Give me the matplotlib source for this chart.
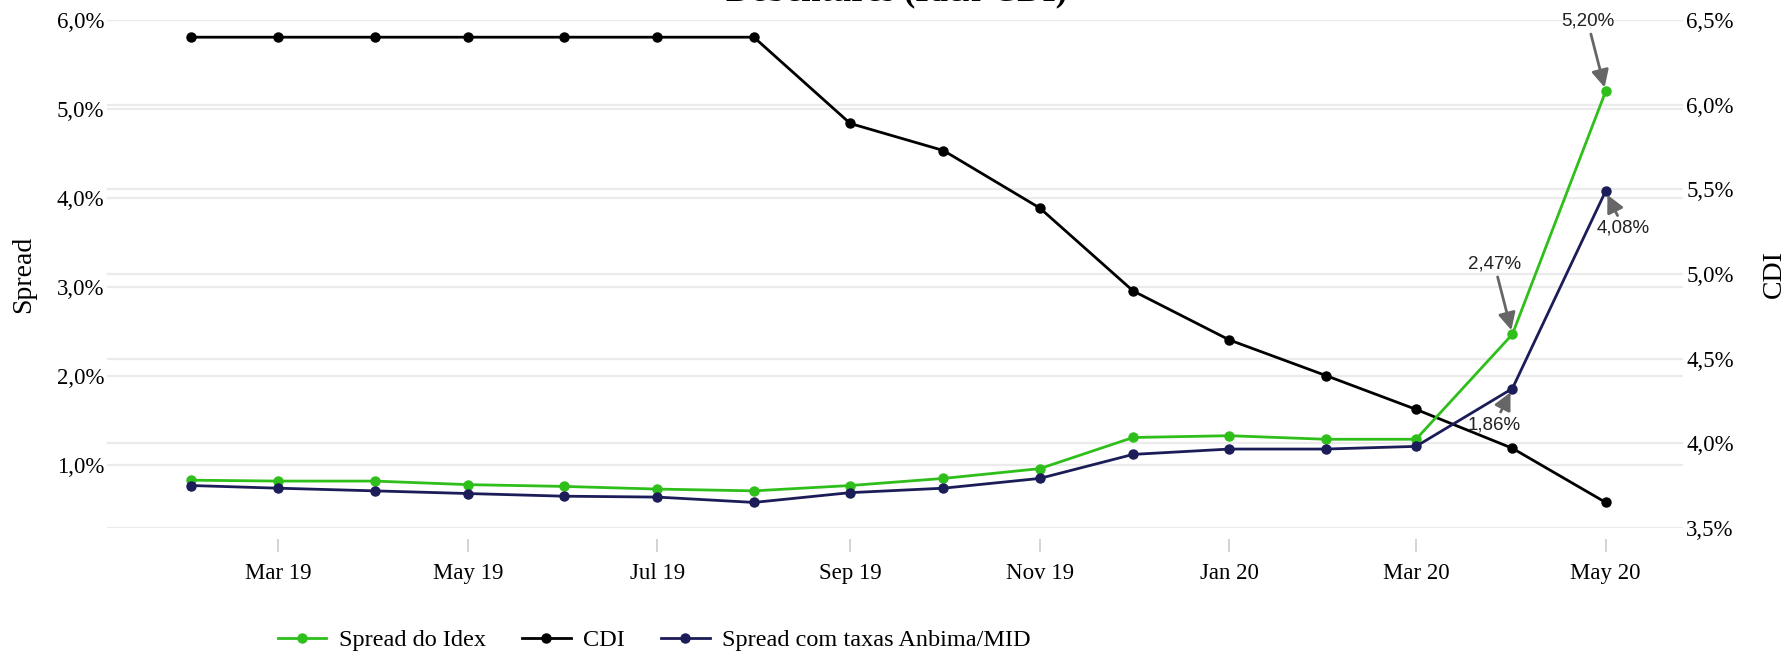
import matplotlib.pyplot as plt
import matplotlib.dates as mdates
import matplotlib.transforms as mtransforms
import numpy as np
import pandas as pd

# monthly data, Feb 2019 - May 2020
months = pd.date_range('2019-02-01', '2020-05-01', freq='MS')

spread_idex = [0.83, 0.82, 0.82, 0.78, 0.76, 0.73, 0.71, 0.77, 0.85, 0.96,
               1.31, 1.33, 1.29, 1.29, 2.47, 5.20]
spread_anbima = [0.77, 0.74, 0.71, 0.68, 0.65, 0.64, 0.58, 0.69, 0.74, 0.85,
                 1.12, 1.18, 1.18, 1.21, 1.86, 4.08]
cdi = [6.40, 6.40, 6.40, 6.40, 6.40, 6.40, 6.40, 5.89, 5.73, 5.39,
       4.90, 4.61, 4.40, 4.20, 3.97, 3.65]

labels = ['Spread do Idex', 'CDI', 'Spread com taxas Anbima/MID']
colors = ['#2fbf1b', '#000000', '#1c1c58']

left_ticks = [1, 2, 3, 4, 5, 6]
right_ticks = [3.5, 4.0, 4.5, 5.0, 5.5, 6.0, 6.5]

# annotated points: (series, index, text offset in px)
notes = [
    (spread_idex, 15, (-18, 70)),
    (spread_anbima, 15, (18, -37)),
    (spread_idex, 14, (-18, 70)),
    (spread_anbima, 14, (-18, -36)),
]

plt.rcParams['font.family'] = ['Liberation Serif', 'DejaVu Serif']

fig = plt.figure(figsize=(17.87, 6.54), dpi=100)
ax = fig.add_axes([0.060, 0.193, 0.882, 0.776])
ax2 = ax.twinx()

grid_c = '#ebebeb'

def pct(v, pos):
    return ('%.1f%%' % v).replace('.', ',')

ax.set_ylim(0.295, 6.0)
ax.set_yticks(left_ticks)
ax.yaxis.set_major_formatter(plt.FuncFormatter(pct))
ax.set_ylabel('Spread', fontsize=20, labelpad=15)

ax2.set_ylim(3.5, 6.5)
ax2.set_yticks(right_ticks)
ax2.yaxis.set_major_formatter(plt.FuncFormatter(pct))
ax2.set_ylabel('CDI', fontsize=20, labelpad=20)

# all gridlines live in the back axes so no line gets covered
for a, ticks in ((ax, left_ticks), (ax2, right_ticks)):
    tr = mtransforms.blended_transform_factory(ax2.transAxes, a.transData)
    for v in ticks:
        ax2.plot([0, 1], [v, v], transform=tr, color=grid_c, lw=1.6, zorder=0)

for a in (ax, ax2):
    for s in a.spines.values():
        s.set_visible(False)
    a.tick_params(axis='y', length=0, labelsize=16.5, pad=2)
    a.patch.set_visible(False)

ax.set_zorder(ax2.get_zorder() + 1)

l1, = ax.plot(months, spread_idex, color=colors[0], lw=2, marker='o', ms=6.5, zorder=3)
l2, = ax2.plot(months, cdi, color=colors[1], lw=2, marker='o', ms=6.5, zorder=3)
l3, = ax.plot(months, spread_anbima, color=colors[2], lw=2, marker='o', ms=6.5, zorder=3)

# x axis
ax.set_xlim(pd.Timestamp('2019-01-05'), pd.Timestamp('2020-05-26'))
ax.xaxis.set_major_locator(mdates.MonthLocator(bymonth=[1, 3, 5, 7, 9, 11]))
ax.xaxis.set_major_formatter(mdates.DateFormatter('%b %y'))
ax.spines['bottom'].set_position(('outward', 8))
ax.tick_params(axis='x', length=9, width=1.2, color='#cccccc', labelsize=16.5, pad=8)

for series, i, off in notes:
    txt = ('%.2f%%' % series[i]).replace('.', ',')
    ax.annotate(txt, xy=(months[i], series[i]), xytext=off, textcoords='offset pixels',
                ha='center', va='center', fontsize=13.5, family=['Liberation Sans', 'DejaVu Sans'],
                color='#222222', zorder=5,
                arrowprops=dict(arrowstyle='-|>', color='#666666', lw=2, mutation_scale=26,
                                shrinkA=1, shrinkB=3))

fig.legend([l1, l2, l3], labels, loc='center', bbox_to_anchor=(0.366, 0.021), ncol=3,
           frameon=False, fontsize=17.5, handlelength=2.0, handletextpad=0.5, columnspacing=1.5)

# title sits almost entirely above the visible area
fig.text(0.502, 1.0, 'Debêntures (Idex-CDI)', ha='center', va='baseline',
         fontsize=25, fontweight='bold')

fig.savefig('out.png', dpi=100)
